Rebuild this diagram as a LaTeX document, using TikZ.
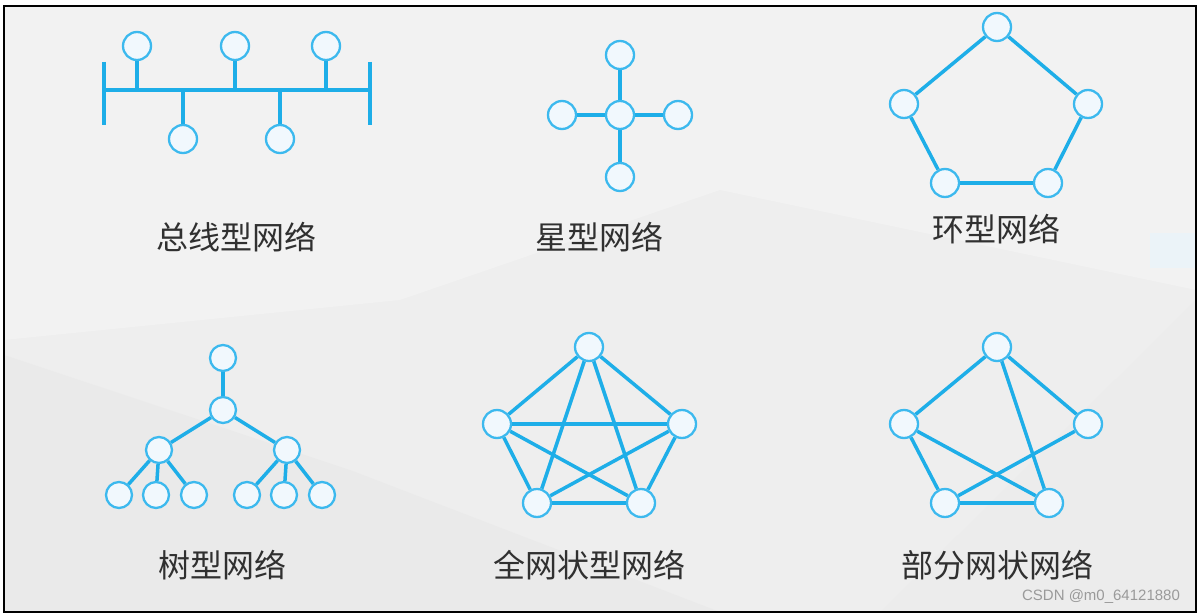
\documentclass[tikz,border=0pt]{standalone}
\usepackage{fontspec}
\newfontfamily\cjk{Noto Sans CJK SC}
\setsansfont{Liberation Sans}
\definecolor{bgbase}{HTML}{EEEEEE}
\definecolor{bglight}{HTML}{F2F2F2}
\definecolor{bgdark}{HTML}{EAEAEA}
\definecolor{netline}{RGB}{30,174,232}
\definecolor{netring}{RGB}{60,185,238}
\definecolor{netfill}{HTML}{F1F8FD}
\definecolor{lbltext}{HTML}{303030}
\definecolor{wmtext}{HTML}{9A9A9A}
\definecolor{ghost}{HTML}{EBF3F8}
\tikzset{
  nd/.style={circle,draw=netring,fill=netfill,line width=2.3pt,minimum size=28pt,inner sep=0pt},
  ndsmall/.style={nd,minimum size=26pt},
  link/.style={draw=netline,line width=3.5pt},
  lbl/.style={font=\cjk\fontsize{32}{32}\selectfont,text=lbltext,inner sep=0pt},
}
\begin{document}
\begin{tikzpicture}[x=1pt,y=-1pt]
\useasboundingbox (0,0) rectangle (1204,615);
% background
\fill[white] (0,0) rectangle (1204,615);
\fill[bgbase] (4,6) rectangle (1196,612);
\fill[bglight] (4,6) -- (1196,6) -- (1196,290) -- (720,190) -- (400,300) -- (4,340) -- cycle;
\fill[bgdark] (4,355) -- (350,470) -- (720,612) -- (4,612) -- cycle;
\fill[bgdark!60!bgbase] (880,612) -- (1196,300) -- (1196,612) -- cycle;
\fill[ghost] (1150,233) rectangle (1196,268);
\draw[black,line width=1.5pt] (4,6) rectangle (1196,612);

% ---------- bus ----------
\coordinate (busL) at (104,90);
\coordinate (busR) at (370,90);
\coordinate (barLt) at (104,62);
\coordinate (barLb) at (104,125);
\coordinate (barRt) at (370,62);
\coordinate (barRb) at (370,125);
\draw[link] (busL) -- (busR);
\draw[link] (barLt) -- (barLb);
\draw[link] (barRt) -- (barRb);
\node[nd] (b1) at (137,46) {};
\node[nd] (b2) at (235,46) {};
\node[nd] (b3) at (326,46) {};
\node[nd] (b4) at (183,139) {};
\node[nd] (b5) at (280,139) {};
\foreach \n in {b1,b2,b3,b4,b5}{\draw[link] (\n) -- (\n |- busL);}
\node[lbl] (l1) at (236,237) {总线型网络};

% ---------- star ----------
\node[nd] (sc) at (620,115) {};
\node[nd] (st) at (620,55) {};
\node[nd] (sl) at (562,115) {};
\node[nd] (sr) at (678,115) {};
\node[nd] (sb) at (620,177) {};
\foreach \n in {st,sl,sr,sb}{\draw[link] (sc) -- (\n);}
\node[lbl] (l2) at (599,237) {星型网络};

% ---------- ring ----------
\node[nd] (rt) at (997,27) {};
\node[nd] (rl) at (904,104) {};
\node[nd] (rr) at (1088,104) {};
\node[nd] (rbl) at (945,183) {};
\node[nd] (rbr) at (1048,183) {};
\draw[link] (rt) -- (rr);
\draw[link] (rr) -- (rbr);
\draw[link] (rbr) -- (rbl);
\draw[link] (rbl) -- (rl);
\draw[link] (rl) -- (rt);
\node[lbl] (l3) at (996,229) {环型网络};

% ---------- tree ----------
\node[ndsmall] (t0) at (223,358) {};
\node[ndsmall] (t1) at (223,410) {};
\node[ndsmall] (t2) at (159,450) {};
\node[ndsmall] (t3) at (287,450) {};
\node[ndsmall] (t4) at (119,495) {};
\node[ndsmall] (t5) at (156,495) {};
\node[ndsmall] (t6) at (194,495) {};
\node[ndsmall] (t7) at (247,495) {};
\node[ndsmall] (t8) at (284,495) {};
\node[ndsmall] (t9) at (322,495) {};
\draw[link] (t0) -- (t1);
\draw[link] (t1) -- (t2);
\draw[link] (t1) -- (t3);
\draw[link] (t2) -- (t4);
\draw[link] (t2) -- (t5);
\draw[link] (t2) -- (t6);
\draw[link] (t3) -- (t7);
\draw[link] (t3) -- (t8);
\draw[link] (t3) -- (t9);
\node[lbl] (l4) at (222,565) {树型网络};

% ---------- full mesh ----------
\node[nd] (ft) at (589,347) {};
\node[nd] (fl) at (497,424) {};
\node[nd] (fr) at (682,424) {};
\node[nd] (fbl) at (537,503) {};
\node[nd] (fbr) at (641,503) {};
\foreach \a/\b in {ft/fl,ft/fr,ft/fbl,ft/fbr,fl/fr,fl/fbl,fl/fbr,fr/fbl,fr/fbr,fbl/fbr}{\draw[link] (\a) -- (\b);}
\node[lbl] (l5) at (589,565) {全网状型网络};

% ---------- partial mesh ----------
\node[nd] (pt) at (997,347) {};
\node[nd] (pl) at (904,424) {};
\node[nd] (pr) at (1088,424) {};
\node[nd] (pbl) at (945,503) {};
\node[nd] (pbr) at (1049,503) {};
\foreach \a/\b in {pt/pl,pt/pr,pt/pbr,pl/pbl,pl/pbr,pr/pbl,pbl/pbr}{\draw[link] (\a) -- (\b);}
\node[lbl] (l6) at (997,565) {部分网状网络};

% watermark
\node[font=\sffamily\fontsize{15}{15}\selectfont,text=wmtext,inner sep=0pt] (wm) at (1101,597) {CSDN @m0\_64121880};
\end{tikzpicture}
\end{document}
